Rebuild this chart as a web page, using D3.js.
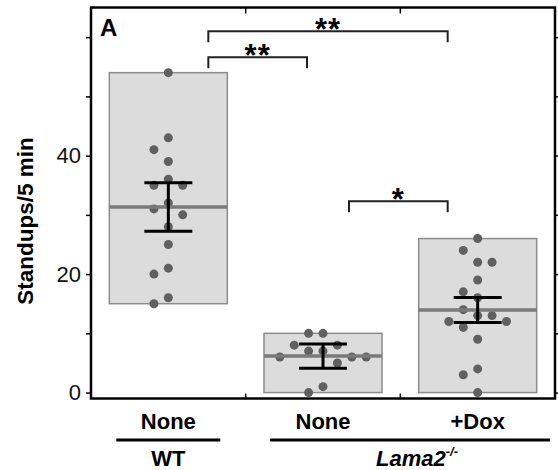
<!DOCTYPE html>
<html lang="en">
<head>
    <meta charset="UTF-8">
    <title>Standups/5 min</title>
    <script src="https://d3js.org/d3.v7.min.js"></script>
    <style>
        body { margin: 0; background: #fff; }
        svg { display: block; font-family: "Liberation Sans", Arial, sans-serif; }
        .axis path, .axis line { stroke: #000; }
        .axis text { font-size: 22px; fill: #111; }
    </style>
</head>
<body>
    <svg id="chart"></svg>

    <script>
        // data
        var groups = ["WT None", "Lama2 None", "Lama2 +Dox"];
        var tickLabels = ["None", "None", "+Dox"];
        var wtNone = [54, 43, 41, 39, 36, 35, 35, 32, 31, 30, 28, 25, 21, 20, 16, 15];
        var lamaNone = [10, 10, 8, 8, 7, 7, 6, 6, 6, 5, 1, 0];
        var lamaDox = [26, 24, 22, 22, 19, 17, 16, 14, 13, 13, 12, 12, 11, 9, 4, 3, 0];
        var errBar = [4.1, 2.05, 2.1];
        var yTicks = [0, 10, 20, 30, 40, 50, 60];
        var yTickLabels = [0, 20, 40];

        // significance brackets
        var bracketFrom = [0, 0, 1];
        var bracketTo = [2, 1, 2];
        var bracketLevel = [61, 56.6, 32.3];
        var bracketLabel = ["**", "**", "*"];

        var genotypes = ["WT", "Lama2"];

        var series = [wtNone, lamaNone, lamaDox];

        var width = 558, height = 470;
        var svg = d3.select("#chart").attr("width", width).attr("height", height);

        var x = d3.scaleBand().domain(groups).range([91, 555]).padding(0);
        var y = d3.scaleLinear().domain([-1, 65]).range([398.5, 7.5]);
        var cx = function(i) { return x(groups[i]) + x.bandwidth() / 2; };

        var boxHalf = 59, capHalf = 24, step = 14.4, r = 4.5, minDist = 13;

        // boxes (range), dots, mean line, error bars
        series.forEach(function(vals, i) {
            var ext = d3.extent(vals);
            var m = d3.mean(vals);
            var c = cx(i);
            var g = svg.append("g");

            g.append("rect")
             .attr("x", c - boxHalf)
             .attr("y", y(ext[1]))
             .attr("width", boxHalf * 2)
             .attr("height", y(ext[0]) - y(ext[1]))
             .attr("fill", "#dcdcdc")
             .attr("stroke", "#8c8c8c")
             .attr("stroke-width", 1.5);

            // simple dodge so dots don't overlap
            var placed = [];
            var cols = [0, -1, 1, -2, 2, -3, 3, -4, 4];
            vals.slice().sort(d3.descending).forEach(function(v) {
                var py = y(v);
                for (var k = 0; k < cols.length; k++) {
                    var px = c + cols[k] * step;
                    var hit = placed.some(function(p) {
                        return Math.hypot(p[0] - px, p[1] - py) < minDist;
                    });
                    if (!hit) { placed.push([px, py]); break; }
                }
            });

            g.selectAll("circle")
             .data(placed)
             .enter().append("circle")
             .attr("cx", function(d) { return d[0]; })
             .attr("cy", function(d) { return d[1]; })
             .attr("r", r)
             .attr("fill", "#606060");

            g.append("line")
             .attr("x1", c - boxHalf).attr("x2", c + boxHalf)
             .attr("y1", y(m)).attr("y2", y(m))
             .attr("stroke", "#7a7a7a")
             .attr("stroke-width", 3.5);

            var lo = y(m - errBar[i]), hi = y(m + errBar[i]);
            g.append("line")
             .attr("x1", c).attr("x2", c).attr("y1", lo).attr("y2", hi)
             .attr("stroke", "#000").attr("stroke-width", 3);
            [lo, hi].forEach(function(yy) {
                g.append("line")
                 .attr("x1", c - capHalf).attr("x2", c + capHalf)
                 .attr("y1", yy).attr("y2", yy)
                 .attr("stroke", "#000").attr("stroke-width", 3);
            });
        });

        // frame + axes
        svg.append("rect")
           .attr("x", x.range()[0]).attr("y", y.range()[1])
           .attr("width", x.range()[1] - x.range()[0])
           .attr("height", y.range()[0] - y.range()[1])
           .attr("fill", "none").attr("stroke", "#000").attr("stroke-width", 2.5);

        svg.append("g")
           .attr("class", "axis")
           .attr("transform", "translate(" + x.range()[0] + ",0)")
           .call(d3.axisLeft(y).tickValues(yTicks).tickSize(5).tickPadding(5)
               .tickFormat(function(d) { return yTickLabels.indexOf(d) >= 0 ? d : ""; }))
           .call(function(g) { g.select(".domain").remove(); })
           .selectAll("line").attr("stroke-width", 1.5);

        svg.append("g")
           .attr("class", "axis")
           .attr("transform", "translate(" + x.range()[1] + ",0)")
           .call(d3.axisRight(y).tickValues(yTicks).tickSize(5).tickFormat(""))
           .call(function(g) { g.select(".domain").remove(); })
           .selectAll("line").attr("stroke-width", 1.5);

        // category boundary ticks on top and bottom
        groups.slice(1).forEach(function(gname) {
            var bx = x(gname);
            svg.append("line").attr("x1", bx).attr("x2", bx)
               .attr("y1", y.range()[1]).attr("y2", y.range()[1] + 6)
               .attr("stroke", "#000").attr("stroke-width", 1.5);
            svg.append("line").attr("x1", bx).attr("x2", bx)
               .attr("y1", y.range()[0]).attr("y2", y.range()[0] - 5)
               .attr("stroke", "#000").attr("stroke-width", 1.5);
        });

        // brackets
        var leftOff = { 0: 40, 1: 26 };
        var rightOff = { 1: -16, 2: -30 };
        bracketFrom.forEach(function(a, i) {
            var b = bracketTo[i];
            var x1 = cx(a) + leftOff[a], x2 = cx(b) + rightOff[b];
            var ly = y(bracketLevel[i]);
            svg.append("path")
               .attr("d", "M" + x1 + "," + (ly + 11) + "V" + ly + "H" + x2 + "V" + (ly + 11))
               .attr("fill", "none").attr("stroke", "#222").attr("stroke-width", 2);
            svg.append("text")
               .attr("x", (x1 + x2) / 2)
               .attr("y", ly + 9)
               .attr("text-anchor", "middle")
               .attr("font-size", "31px")
               .attr("font-weight", "bold")
               .attr("letter-spacing", "1px")
               .text(bracketLabel[i]);
        });

        // panel letter
        svg.append("text")
           .attr("x", 100).attr("y", 36)
           .attr("font-size", "24px").attr("font-weight", "bold")
           .text("A");

        // y axis title
        svg.append("text")
           .attr("transform", "translate(33,221) rotate(-90)")
           .attr("text-anchor", "middle")
           .attr("font-size", "22.5px").attr("font-weight", "bold")
           .text("Standups/5 min");

        // x labels
        svg.selectAll(".xlab")
           .data(groups)
           .enter().append("text")
           .attr("class", "xlab")
           .attr("x", function(d, i) { return cx(i); })
           .attr("y", 429)
           .attr("text-anchor", "middle")
           .attr("font-size", "22px").attr("font-weight", "bold")
           .text(function(d, i) { return tickLabels[i]; });

        // genotype underlines + labels
        var ulLeft = [cx(0) - 52, cx(1) - 53];
        var ulRight = [cx(0) + 52, x.range()[1] - 5];
        genotypes.forEach(function(gt, i) {
            svg.append("line")
               .attr("x1", ulLeft[i]).attr("x2", ulRight[i])
               .attr("y1", 440).attr("y2", 440)
               .attr("stroke", "#000").attr("stroke-width", 3);
            var t = svg.append("text")
               .attr("x", i === 0 ? cx(0) : (ulLeft[i] + ulRight[i]) / 2 + 7)
               .attr("y", 466)
               .attr("text-anchor", "middle")
               .attr("font-size", "22px").attr("font-weight", "bold");
            if (i === 0) {
                t.text(gt);
            } else {
                t.append("tspan").attr("font-style", "italic").text(gt);
                t.append("tspan").attr("font-style", "italic").attr("font-size", "13px")
                 .attr("dy", -10).text("-/-");
            }
        });
    </script>
</body>
</html>
